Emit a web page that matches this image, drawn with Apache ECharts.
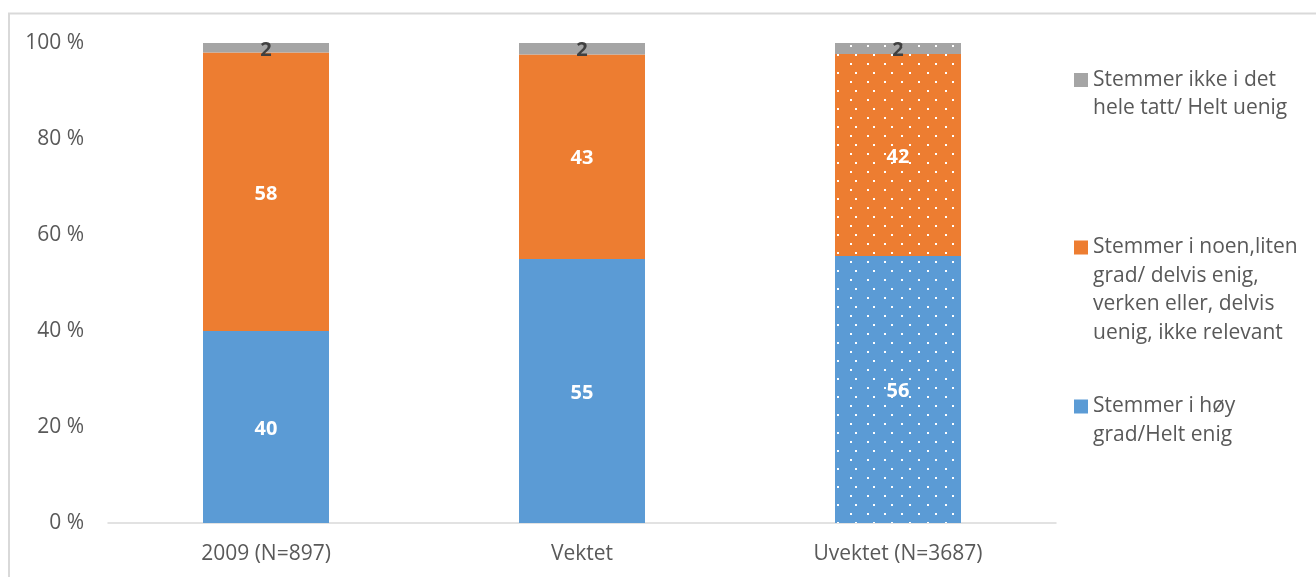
<!DOCTYPE html>
<html>
<head>
<meta charset="utf-8">
<script src="https://cdn.jsdelivr.net/npm/echarts@6/dist/echarts.min.js"></script>
<style>
html,body{margin:0;padding:0;background:#fff;}
#chart{width:1316px;height:577px;}
</style>
</head>
<body>
<div id="chart"></div>
<script>
const categories = ['2009 (N=897)', 'Vektet', 'Uvektet (N=3687)'];
const seriesNames = [
  'Stemmer i høy grad/Helt enig',
  'Stemmer i noen,liten grad/ delvis enig, verken eller, delvis uenig, ikke relevant',
  'Stemmer ikke i det hele tatt/ Helt uenig'
];
const legendLabels = [
  'Stemmer i høy\ngrad/Helt enig',
  'Stemmer i noen,liten\ngrad/ delvis enig,\nverken eller, delvis\nuenig, ikke relevant',
  'Stemmer ikke i det\nhele tatt/ Helt uenig'
];
const highAgree = [40, 55, 55.6];
const partlyAgree = [58, 42.6, 42.1];
const disagree = [2, 2.4, 2.3];
const yTicks = [0, 20, 40, 60, 80, 100];

const colors = ['#5B9BD5', '#ED7D31', '#A5A5A5'];
const FONT = 'Open Sans';
const LH = 28.5;
const ICON = 14;
const decal = {
  symbol: 'rect',
  symbolSize: 1,
  color: 'rgba(255,255,255,1)',
  dashArrayX: [[2, 15], [0, 8.5, 2, 6.5]],
  dashArrayY: [2, 6.5],
  rotation: 0
};
function buildData(values) {
  return values.map((v, i) => i === 2 ? { value: v, itemStyle: { decal: decal } } : v);
}
const seriesValues = [highAgree, partlyAgree, disagree];
const labelColors = ['#ffffff', '#ffffff', '#404040'];

const chart = echarts.init(document.getElementById('chart'), null, { renderer: 'canvas' });

// icon square aligned with the first text line: the icon box is made taller
// (invisible extension) so the centred text block starts at the icon's row.
function legendFor(idx, iconCenterY) {
  const lines = legendLabels[idx].split('\n').length;
  const boxH = ICON + (lines - 1) * LH;
  const textTop = boxH / 2 - lines * LH / 2; // relative to icon top (negative)
  const top = iconCenterY - ICON / 2 + textTop;
  return {
    show: true,
    left: 1074,
    top: top,
    orient: 'vertical',
    selectedMode: false,
    icon: 'path://M0,0H' + ICON + 'V' + ICON + 'H0ZM0,' + boxH,
    itemWidth: ICON,
    itemHeight: boxH,
    itemGap: 0,
    padding: 0,
    data: [seriesNames[idx]],
    formatter: () => legendLabels[idx],
    textStyle: {
      fontFamily: FONT,
      fontSize: 21,
      color: '#595959',
      lineHeight: LH
    }
  };
}

const option = {
  animation: false,
  backgroundColor: '#ffffff',
  textStyle: { fontFamily: FONT },
  graphic: [{
    type: 'rect',
    shape: { x: 9, y: 13.5, width: 1400, height: 700 },
    style: { fill: 'none', stroke: '#d9d9d9', lineWidth: 2 },
    silent: true,
    z: -10
  }],
  legend: [
    legendFor(2, 80),
    legendFor(1, 247.5),
    legendFor(0, 406.5)
  ],
  grid: { left: 108, right: 260, top: 43, bottom: 54, containLabel: false },
  xAxis: {
    type: 'category',
    data: categories,
    axisLine: { show: true, lineStyle: { color: '#d9d9d9', width: 1.5 } },
    axisTick: { show: false },
    axisLabel: { color: '#595959', fontFamily: FONT, fontSize: 21, margin: 21 }
  },
  yAxis: {
    type: 'value',
    min: yTicks[0],
    max: yTicks[yTicks.length - 1],
    interval: 20,
    axisLine: { show: false },
    axisTick: { show: false },
    splitLine: { show: false },
    axisLabel: {
      color: '#595959', fontFamily: FONT, fontSize: 21, margin: 24,
      formatter: '{value} %'
    }
  },
  series: seriesValues.map((vals, s) => ({
    name: seriesNames[s],
    type: 'bar',
    stack: 'total',
    barWidth: 126,
    data: buildData(vals),
    itemStyle: { color: colors[s] },
    label: {
      show: true,
      position: 'inside',
      offset: [0, 2],
      color: labelColors[s],
      fontFamily: FONT,
      fontWeight: 'bold',
      fontSize: 20,
      formatter: p => Math.round(p.value)
    },
    emphasis: { disabled: true }
  }))
};
chart.setOption(option);
</script>
</body>
</html>
